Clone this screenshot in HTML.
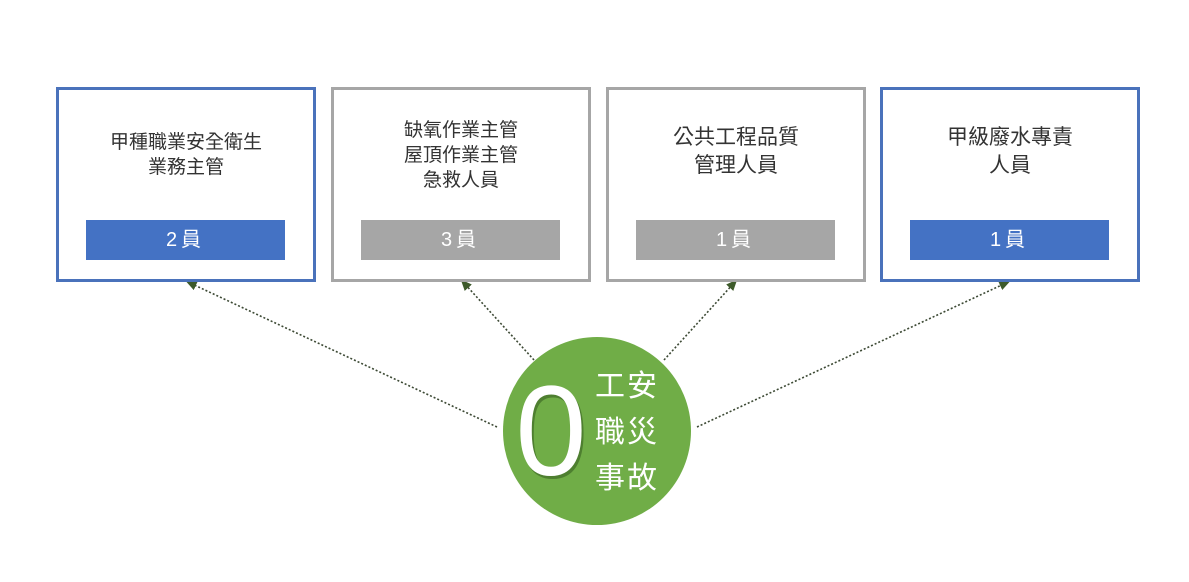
<!DOCTYPE html>
<html><head><meta charset="utf-8"><style>
body{margin:0;width:1189px;height:582px;background:#fff;position:relative;overflow:hidden;font-family:"Liberation Sans","Noto Sans CJK TC",sans-serif}
.box{position:absolute;top:87px;width:254px;height:189px;border:3px solid #a6a6a6;background:#fff}
.box.b{border-color:#4a72bb}
.t{position:absolute;left:0;right:0;text-align:center;font-size:19px;line-height:25px;color:#333}
.t.l{font-size:21px;line-height:28px}
.badge{position:absolute;left:27px;top:130px;width:199px;height:40px;background:#a6a6a6;color:#fff;text-align:center;font-size:20px;line-height:40px;letter-spacing:4px}
.b .badge{background:#4472c4}
</style></head><body>
<svg width="1189" height="582" style="position:absolute;left:0;top:0">
<defs><marker id="a" markerWidth="8" markerHeight="8" refX="4" refY="4" orient="auto"><path d="M0,1 L7,4 L0,7z" fill="#3d5a2a"/></marker></defs>
<g stroke="#3d4a35" stroke-width="1.6" stroke-dasharray="2,2" fill="none" marker-end="url(#a)">
<line x1="497" y1="427" x2="190" y2="283"/>
<line x1="534" y1="360" x2="464" y2="283"/>
<line x1="664" y1="360" x2="734" y2="283"/>
<line x1="697" y1="427" x2="1006" y2="283"/>
</g>
<circle cx="597" cy="431" r="94" fill="#70ad47"/>
<text x="553" y="478" font-size="128" fill="#4e7f30" text-anchor="middle" font-family="Liberation Sans">0</text>
<text x="551" y="475" font-size="128" fill="#fff" text-anchor="middle" font-family="Liberation Sans">0</text>
</svg>
<div style="position:absolute;left:595px;top:364px;color:#fff;font-size:30px;line-height:46px;letter-spacing:2px">工安<br>職災<br>事故</div>
<div class="box b" style="left:56px"><div class="t" style="top:40px">甲種職業安全衛生<br>業務主管</div><div class="badge">2員</div></div>
<div class="box" style="left:331px"><div class="t" style="top:28px">缺氧作業主管<br>屋頂作業主管<br>急救人員</div><div class="badge">3員</div></div>
<div class="box" style="left:606px"><div class="t l" style="top:34px">公共工程品質<br>管理人員</div><div class="badge">1員</div></div>
<div class="box b" style="left:880px"><div class="t l" style="top:34px">甲級廢水專責<br>人員</div><div class="badge">1員</div></div>
</body></html>
